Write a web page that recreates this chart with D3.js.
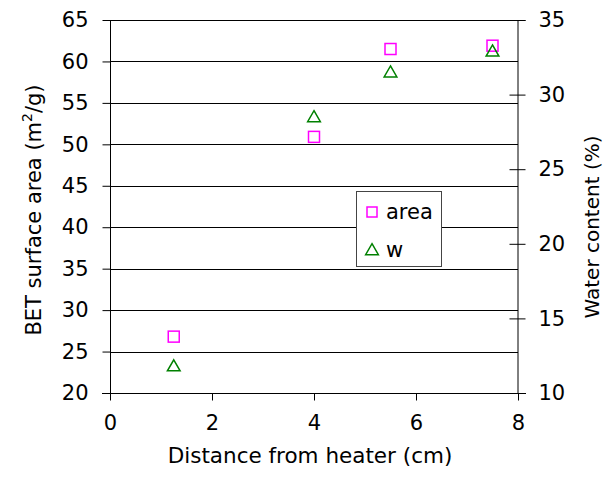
<!DOCTYPE html>
<html>
<head>
<meta charset="utf-8">
<script src="https://cdn.jsdelivr.net/npm/d3@7"></script>
<style>
  body { margin: 0; background: #fff; }
  text { font-family: "DejaVu Sans", Verdana, sans-serif; fill: #000; }
</style>
</head>
<body>
<div id="chart"></div>
<script>
var width = 607;
var height = 488;

// data
var distance = [1.25, 4, 5.5, 7.5];
var area = [26.8, 50.9, 61.5, 61.9];
var water = [11.8, 28.5, 31.5, 32.9];
var xTicks = [0, 2, 4, 6, 8];
var leftTicks = [20, 25, 30, 35, 40, 45, 50, 55, 60, 65];
var rightTicks = [10, 15, 20, 25, 30, 35];

var svg = d3.select("#chart").append("svg")
  .attr("width", width)
  .attr("height", height);

var x = d3.scaleLinear().domain([0, 8]).range([110, 518]);
var yL = d3.scaleLinear().domain([20, 65]).range([393, 20]);
var yR = d3.scaleLinear().domain([10, 35]).range([393, 20]);

// gridlines
svg.append("g").selectAll("line")
  .data(leftTicks.slice(1))
  .enter().append("line")
  .attr("x1", x(0)).attr("x2", x(8))
  .attr("y1", function(d) { return Math.round(yL(d)) + 0.5; })
  .attr("y2", function(d) { return Math.round(yL(d)) + 0.5; })
  .style("stroke", "#000")
  .style("stroke-width", 1);

// left axis
var leftAxis = d3.axisLeft(yL).tickValues(leftTicks).tickSizeOuter(0).tickSize(8).tickPadding(14);
var gl = svg.append("g").attr("transform", "translate(" + (x(0) + 0.5) + ",0)").call(leftAxis);
gl.select(".domain").attr("d", "M0," + yL(65) + "V" + (yL(20) + 7));

// right axis, ticks cross the line
var rightAxis = d3.axisRight(yR).tickValues(rightTicks).tickSizeOuter(0).tickSize(8).tickPadding(13);
var gr = svg.append("g").attr("transform", "translate(" + (x(8) - 0.5) + ",0)").call(rightAxis);
gr.selectAll(".tick line").attr("x1", -8);

// bottom axis
var bottomAxis = d3.axisBottom(x).tickValues(xTicks).tickSizeOuter(0).tickSize(7).tickPadding(15);
var gb = svg.append("g").attr("transform", "translate(0," + (yL(20) + 0.5) + ")").call(bottomAxis);
gb.select(".domain").attr("d", "M" + (x(0) - 8) + ",0H" + (x(8) + 8));

svg.selectAll(".tick text").style("font-size", "21px").style("font-family", "DejaVu Sans");
svg.selectAll(".domain, .tick line").style("stroke", "#000").style("stroke-width", 1);

// axis titles
svg.append("text")
  .attr("text-anchor", "middle")
  .attr("transform", "translate(" + 310 + "," + 463 + ")")
  .style("font-size", "21.5px")
  .text("Distance from heater (cm)");

var lt = svg.append("text")
  .attr("text-anchor", "middle")
  .attr("transform", "translate(" + 41 + "," + 210 + ") rotate(-90)")
  .style("font-size", "21px");
lt.append("tspan").text("BET surface area (m");
lt.append("tspan").attr("dy", -9).style("font-size", "14px").text("2");
lt.append("tspan").attr("dy", 9).text("/g)");

svg.append("text")
  .attr("text-anchor", "middle")
  .attr("transform", "translate(" + 599 + "," + 227 + ") rotate(-90)")
  .style("font-size", "20px")
  .text("Water content (%)");

// markers
var sq = 11;
svg.append("g").selectAll("rect")
  .data(area)
  .enter().append("rect")
  .attr("x", function(d, i) { return x(distance[i]) - sq / 2; })
  .attr("y", function(d) { return yL(d) - sq / 2; })
  .attr("width", sq).attr("height", sq)
  .style("fill", "none")
  .style("stroke", "#ff00ff")
  .style("stroke-width", 1.5);

var tri = d3.symbol().type(d3.symbolTriangle).size(70);
svg.append("g").selectAll("path")
  .data(water)
  .enter().append("path")
  .attr("d", tri)
  .attr("transform", function(d, i) { return "translate(" + x(distance[i]) + "," + (yR(d) + 1) + ")"; })
  .style("fill", "none")
  .style("stroke", "#008000")
  .style("stroke-width", 1.5);

// legend
var lg = svg.append("g");
lg.append("rect")
  .attr("x", 356.5).attr("y", 191.5).attr("width", 85).attr("height", 75)
  .style("fill", "#fff").style("stroke", "#444").style("stroke-width", 1);
lg.append("rect")
  .attr("x", 367).attr("y", 207).attr("width", 10).attr("height", 10)
  .style("fill", "none").style("stroke", "#ff00ff").style("stroke-width", 1.5);
lg.append("text").attr("x", 386).attr("y", 219).style("font-size", "21px").text("area");
lg.append("path")
  .attr("d", tri)
  .attr("transform", "translate(372,251)")
  .style("fill", "none").style("stroke", "#008000").style("stroke-width", 1.5);
lg.append("text").attr("x", 386).attr("y", 257).style("font-size", "21px").text("w");
</script>
</body>
</html>
